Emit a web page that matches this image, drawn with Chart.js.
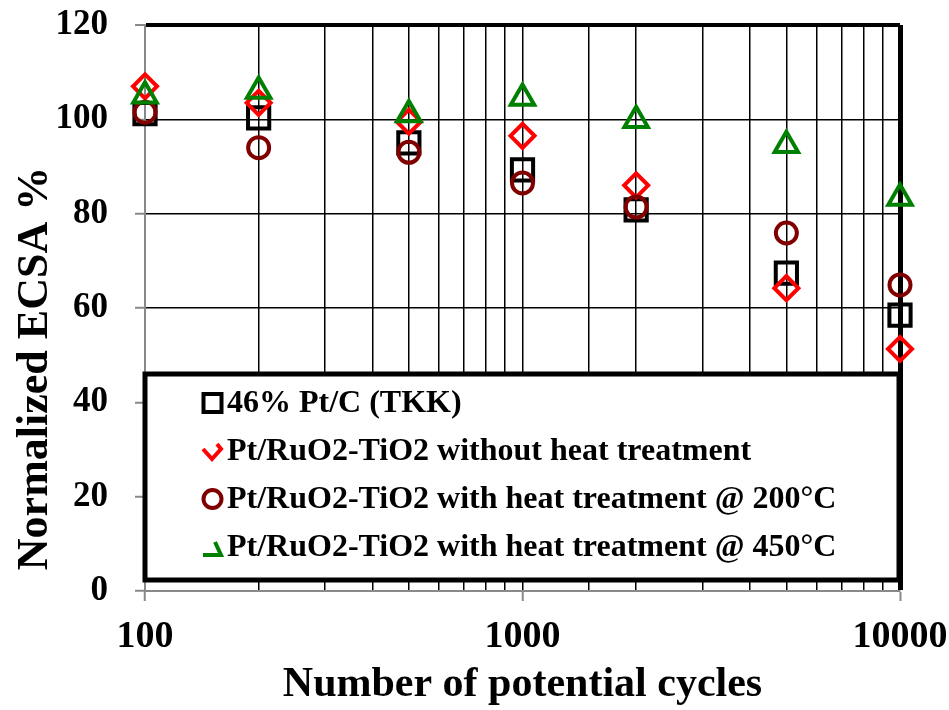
<!DOCTYPE html>
<html>
<head>
<meta charset="utf-8">
<script src="https://cdn.jsdelivr.net/npm/chart.js@4/dist/chart.umd.min.js"></script>
<style>
  html, body { margin: 0; padding: 0; background: #fff; }
  #wrap { width: 949px; height: 710px; }
</style>
</head>
<body>
<div id="wrap"><canvas id="ecsaChart" width="949" height="710"></canvas></div>
<script>
// cycles on the x axis
const cycles = [100, 200, 500, 1000, 2000, 5000, 10000];

// normalized ECSA %
const ptcTKK = [101.2, 100.3, 95, 89.3, 80.8, 67.4, 58.5];
const noHeat = [107, 103.5, 99.5, 96.5, 86, 64.2, 51.3];
const heat200 = [101.5, 94, 93, 86.5, 81.4, 75.9, 64.9];
const heat450 = [105, 106, 101, 104.5, 99.8, 94.5, 83.3];

const seriesLabels = [
    '46% Pt/C (TKK)',
    'Pt/RuO2-TiO2 without heat treatment',
    'Pt/RuO2-TiO2 with heat treatment @ 200°C',
    'Pt/RuO2-TiO2 with heat treatment @ 450°C'
];

const yTicks = [0, 20, 40, 60, 80, 100, 120];
const xLabelled = [100, 1000, 10000];

const serif = '"Liberation Serif", "Times New Roman", serif';

function toPoints(vals) {
    return cycles.map((c, i) => ({ x: c, y: vals[i] }));
}

// legend box drawn inside the plot like the original
const legendBox = {
    id: 'legendBox',
    afterDraw(chart) {
        const ctx = chart.ctx;
        const left = 145, top = 374, right = 899, bottom = 580;
        ctx.save();
        ctx.fillStyle = '#fff';
        ctx.fillRect(left, top, right - left, bottom - top);
        ctx.lineWidth = 5;
        ctx.strokeStyle = '#000';
        ctx.strokeRect(left, top, right - left, bottom - top);

        const rows = [403, 451, 499, 547];
        ctx.lineWidth = 4;

        // square
        ctx.strokeStyle = '#000';
        ctx.strokeRect(203.5, rows[0] - 9, 18, 18);

        // half diamond
        ctx.strokeStyle = '#ff0000';
        ctx.beginPath();
        ctx.moveTo(203, rows[1] - 2);
        ctx.lineTo(212, rows[1] + 8);
        ctx.lineTo(221, rows[1] - 2);
        ctx.lineTo(217, rows[1] - 7);
        ctx.stroke();

        // circle
        ctx.strokeStyle = '#800000';
        ctx.beginPath();
        ctx.arc(212.5, rows[2], 9, 0, Math.PI * 2);
        ctx.stroke();

        // part of triangle
        ctx.strokeStyle = '#008000';
        ctx.beginPath();
        ctx.moveTo(203, rows[3] + 8);
        ctx.lineTo(221, rows[3] + 8);
        ctx.lineTo(215, rows[3] - 5);
        ctx.stroke();

        ctx.fillStyle = '#000';
        ctx.font = 'bold 32px ' + serif;
        ctx.textBaseline = 'middle';
        ctx.textAlign = 'left';
        seriesLabels.forEach((t, i) => ctx.fillText(t, 227, rows[i] + 1));
        ctx.restore();
    }
};

const ctx = document.getElementById('ecsaChart').getContext('2d');

const ecsaChart = new Chart(ctx, {
    type: 'scatter',
    data: {
        datasets: [{
            label: seriesLabels[0],
            data: toPoints(ptcTKK),
            pointStyle: 'rect',
            pointRadius: 15,
            borderColor: '#000',
            order: 4
        }, {
            label: seriesLabels[1],
            data: toPoints(noHeat),
            pointStyle: 'rectRot',
            pointRadius: 12,
            borderColor: '#ff0000',
            order: 3
        }, {
            label: seriesLabels[2],
            data: toPoints(heat200),
            pointStyle: 'circle',
            pointRadius: 10.5,
            borderColor: '#800000',
            order: 2
        }, {
            label: seriesLabels[3],
            data: toPoints(heat450),
            pointStyle: 'triangle',
            pointRadius: 13.5,
            borderColor: '#008000',
            order: 1
        }].map(ds => Object.assign(ds, {
            backgroundColor: 'transparent',
            pointBorderWidth: 4,
            pointHoverRadius: ds.pointRadius,
            clip: false
        }))
    },
    options: {
        responsive: false,
        animation: false,
        layout: {
            padding: { top: 25, right: 49, left: 0, bottom: 0 }
        },
        plugins: {
            legend: { display: false },
            tooltip: { enabled: false }
        },
        scales: {
            x: {
                type: 'logarithmic',
                min: 100,
                max: 10000,
                afterFit(scale) {
                    scale.height = 119;
                    scale.paddingLeft = 0;
                    scale.paddingRight = 0;
                },
                border: { color: '#888', width: 2 },
                grid: {
                    color(c) {
                        const v = c.tick && c.tick.value;
                        return v === 100 ? 'transparent' : '#000';
                    },
                    lineWidth(c) {
                        const v = c.tick && c.tick.value;
                        return v === 10000 ? 5 : 1.5;
                    },
                    tickColor(c) {
                        const v = c.tick && c.tick.value;
                        return xLabelled.includes(v) ? '#888' : 'transparent';
                    },
                    tickWidth: 2,
                    tickLength: 10
                },
                ticks: {
                    autoSkip: false,
                    maxRotation: 0,
                    padding: 13,
                    color: '#000',
                    font: { family: serif, size: 38, weight: 'bold' },
                    callback(value) {
                        return xLabelled.includes(value) ? String(value) : '';
                    }
                },
                title: {
                    display: true,
                    text: 'Number of potential cycles',
                    color: '#000',
                    font: { family: serif, size: 42, weight: 'bold' },
                    padding: { top: 4, bottom: 0 }
                }
            },
            y: {
                min: 0,
                max: 120,
                afterFit(scale) {
                    scale.width = 145;
                    scale.paddingTop = 0;
                    scale.paddingBottom = 0;
                },
                afterBuildTicks(scale) {
                    scale.ticks = yTicks.map(v => ({ value: v }));
                },
                border: { color: '#888', width: 2 },
                grid: {
                    color(c) {
                        const v = c.tick && c.tick.value;
                        return v === 0 ? 'transparent' : '#000';
                    },
                    lineWidth(c) {
                        const v = c.tick && c.tick.value;
                        return v === 120 ? 4 : 1.5;
                    },
                    tickColor: '#888',
                    tickWidth: 2,
                    tickLength: 10
                },
                ticks: {
                    padding: 27,
                    color: '#000',
                    font: { family: serif, size: 35, weight: 'bold' }
                },
                title: {
                    display: true,
                    // trailing spaces push the label down, as in the original
                    text: 'Normalized ECSA %           ',
                    color: '#000',
                    font: { family: serif, size: 44, weight: 'bold' },
                    padding: { top: 9, bottom: 0 }
                }
            }
        }
    },
    plugins: [legendBox]
});
</script>
</body>
</html>
